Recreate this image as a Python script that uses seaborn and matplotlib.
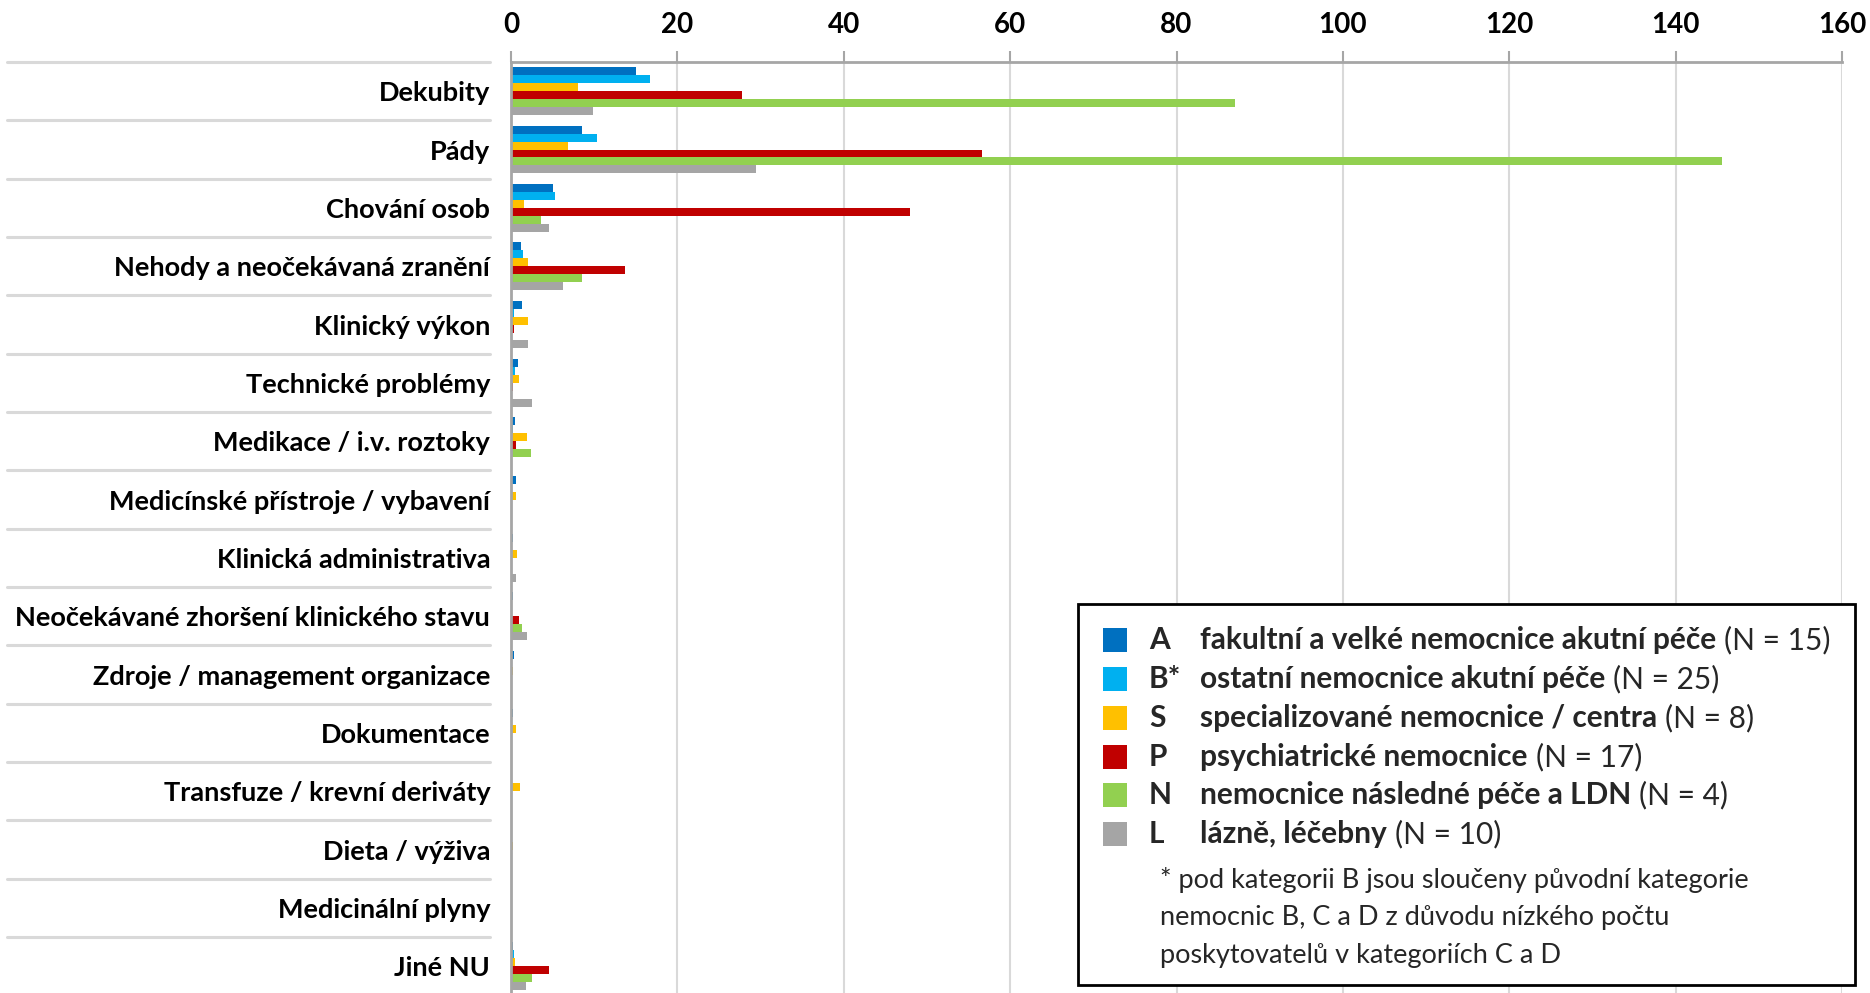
import numpy as np
import pandas as pd
import matplotlib
matplotlib.use("Agg")
import matplotlib.pyplot as plt
import seaborn as sns
from matplotlib import transforms
from matplotlib.patches import Rectangle

# ---------- data ----------
categories = [
    "Dekubity", "Pády", "Chování osob", "Nehody a neočekávaná zranění",
    "Klinický výkon", "Technické problémy", "Medikace / i.v. roztoky",
    "Medicínské přístroje / vybavení", "Klinická administrativa",
    "Neočekávané zhoršení klinického stavu", "Zdroje / management organizace",
    "Dokumentace", "Transfuze / krevní deriváty", "Dieta / výživa",
    "Medicinální plyny", "Jiné NU",
]
groups = ["A", "B*", "S", "P", "N", "L"]

vals_A = [15.0, 8.5, 5.1, 1.2, 1.3, 0.9, 0.45, 0.65, 0.3, 0.3, 0.35, 0.25, 0.15, 0.05, 0.05, 0.2]
vals_B = [16.7, 10.3, 5.3, 1.45, 0.35, 0.5, 0.3, 0.1, 0.1, 0.1, 0.1, 0.1, 0.05, 0.1, 0.1, 0.35]
vals_S = [8.0, 6.9, 1.6, 2.1, 2.0, 0.95, 1.9, 0.65, 0.75, 0.1, 0.25, 0.65, 1.1, 0.2, 0.0, 0.5]
vals_P = [27.8, 56.6, 48.0, 13.7, 0.35, 0.2, 0.65, 0.15, 0.0, 1.0, 0.0, 0.0, 0.0, 0.0, 0.0, 4.6]
vals_N = [87.0, 145.6, 3.6, 8.5, 0.0, 0.0, 2.4, 0.0, 0.0, 1.3, 0.0, 0.0, 0.0, 0.0, 0.0, 2.5]
vals_L = [9.9, 29.4, 4.6, 6.2, 2.0, 2.5, 0.0, 0.0, 0.65, 1.9, 0.0, 0.0, 0.0, 0.0, 0.0, 1.8]

colors = ["#0070C0", "#00B0F0", "#FFC000", "#C00000", "#92D050", "#A5A5A5"]
legend_desc = [
    "fakultní a velké nemocnice akutní péče",
    "ostatní nemocnice akutní péče",
    "specializované nemocnice / centra",
    "psychiatrické nemocnice",
    "nemocnice následné péče a LDN",
    "lázně, léčebny",
]
legend_n = ["(N = 15)", "(N = 25)", "(N = 8)", "(N = 17)", "(N = 4)", "(N = 10)"]
footnote = [
    "* pod kategorii B jsou sloučeny původní kategorie",
    "nemocnic B, C a D z důvodu nízkého počtu",
    "poskytovatelů v kategoriích C a D",
]
xticks = [0, 20, 40, 60, 80, 100, 120, 140, 160]

wide = pd.DataFrame({"category": categories, "A": vals_A, "B*": vals_B, "S": vals_S,
                     "P": vals_P, "N": vals_N, "L": vals_L})
df = wide.melt(id_vars="category", var_name="group", value_name="value")

# ---------- style ----------
sns.set_style("white")
plt.rcParams["font.family"] = ["Lato", "DejaVu Sans"]
W, H = 1870, 993
fx = lambda px: px / W
fy = lambda py: 1 - py / H

fig = plt.figure(figsize=(18.7, 9.93), dpi=100)
ax = fig.add_axes([fx(511), fy(995.5), fx(1842) - fx(511), (995.5 - 62) / H])

sns.barplot(data=df, y="category", x="value", hue="group", order=categories,
            hue_order=groups, palette=colors, orient="h", width=0.82,
            saturation=1, errorbar=None, legend=False, linewidth=0, ax=ax)

ax.set_xlim(0, 160)
ax.set_ylim(len(categories) - 0.5, -0.5)
ax.xaxis.tick_top()
ax.set_xticks(xticks)
ax.set_xticklabels([str(t) for t in xticks], fontsize=20, fontweight="bold")
ax.tick_params(axis="x", which="major", length=8, width=1.5, color="#a6a6a6",
               pad=9, labelcolor="black")
ax.set_xlabel("")
ax.set_ylabel("")

ax.set_yticks(range(len(categories)))
ax.set_yticklabels(categories, fontsize=19.5, fontweight="bold")
ax.tick_params(axis="y", which="major", length=0, pad=15, labelcolor="black")
ax.set_yticks(np.arange(-0.5, len(categories), 1), minor=True)
ax.tick_params(axis="y", which="minor", length=11, width=1.5, color="#a6a6a6")

ax.grid(axis="x", color="#d9d9d9", linewidth=1.5)
ax.grid(axis="y", visible=False)
ax.set_axisbelow(True)
for side in ["bottom", "right"]:
    ax.spines[side].set_visible(False)
for side in ["top", "left"]:
    ax.spines[side].set_color("#a6a6a6")
    ax.spines[side].set_linewidth(2)

# light separators between category labels
trans = transforms.blended_transform_factory(fig.transFigure, ax.transData)
for b in np.arange(-0.5, len(categories) - 1, 1):
    ax.plot([fx(7), fx(490)], [b, b], transform=trans, color="#d9d9d9", lw=2.2,
            clip_on=False, scalex=False, scaley=False)

# ---------- legend box ----------
box = Rectangle((fx(1078), fy(985)), fx(1855) - fx(1078), (985 - 604) / H,
                transform=fig.transFigure, facecolor="white", edgecolor="black",
                linewidth=2, zorder=5)
fig.add_artist(box)

rows_y = [640, 679, 718, 757, 795, 834]
desc_texts = []
for g, c, d, yy in zip(groups, colors, legend_desc, rows_y):
    fig.add_artist(Rectangle((fx(1103), fy(yy + 12)), 24 / W, 24 / H,
                             transform=fig.transFigure, facecolor=c,
                             edgecolor="none", zorder=6))
    fig.text(fx(1149), fy(yy), g, fontsize=21.5, fontweight="bold", va="center",
             ha="left", zorder=6)
    desc_texts.append(fig.text(fx(1200), fy(yy), d, fontsize=21.5, fontweight="bold",
                               va="center", ha="left", zorder=6))

fig.canvas.draw()
renderer = fig.canvas.get_renderer()
for t, n, yy in zip(desc_texts, legend_n, rows_y):
    bb = t.get_window_extent(renderer)
    fig.text(bb.x1 / fig.bbox.width + fx(8), fy(yy), n, fontsize=21.5, va="center",
             ha="left", zorder=6)

for line, yy in zip(footnote, [880, 917, 955]):
    fig.text(fx(1160), fy(yy), line, fontsize=19.5, va="center", ha="left", zorder=6)

fig.savefig("out.png", dpi=100)
